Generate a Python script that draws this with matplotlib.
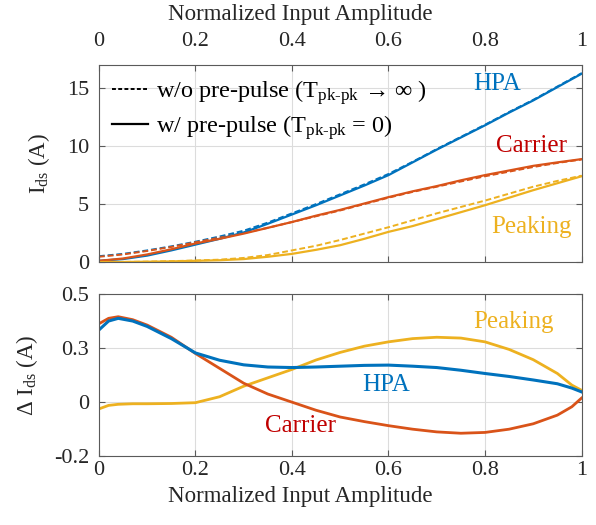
import matplotlib
matplotlib.use("Agg")
import matplotlib.pyplot as plt
from matplotlib.ticker import FixedLocator, FixedFormatter

plt.rcParams['font.family'] = ['Liberation Serif', 'DejaVu Serif']
plt.rcParams['mathtext.fontset'] = 'custom'
plt.rcParams['mathtext.rm'] = 'Liberation Serif'
plt.rcParams['mathtext.it'] = 'Liberation Serif:italic'

# ---------------- data ----------------
x_top = [0, 0.05, 0.1, 0.15, 0.2, 0.25, 0.3, 0.35, 0.4, 0.45, 0.5,
         0.55, 0.6, 0.65, 0.7, 0.75, 0.8, 0.85, 0.9, 0.95, 1.0]

hpa_solid = [0.1, 0.25, 0.55, 1.0, 1.5, 2.0, 2.55, 3.3, 4.1, 4.9, 5.75,
             6.6, 7.5, 8.6, 9.7, 10.75, 11.8, 12.9, 13.95, 15.1, 16.25]
hpa_dash = [0.5, 0.7, 1.0, 1.35, 1.75, 2.2, 2.7, 3.4, 4.2, 5.0, 5.85,
            6.7, 7.6, 8.65, 9.75, 10.8, 11.85, 12.95, 14.0, 15.15, 16.3]
car_solid = [0.1, 0.3, 0.65, 1.1, 1.6, 2.0, 2.45, 2.95, 3.45, 4.0, 4.5,
             5.05, 5.6, 6.1, 6.55, 7.05, 7.5, 7.9, 8.3, 8.6, 8.88]
car_dash = [0.45, 0.65, 0.95, 1.3, 1.7, 2.1, 2.5, 2.95, 3.45, 3.95, 4.45,
            5.0, 5.55, 6.05, 6.5, 6.95, 7.4, 7.8, 8.2, 8.55, 8.85]
pk_solid = [0.0, 0.0, 0.02, 0.05, 0.1, 0.15, 0.25, 0.45, 0.7, 1.05, 1.45,
            2.0, 2.6, 3.1, 3.7, 4.3, 4.9, 5.55, 6.2, 6.8, 7.4]
pk_dash = [0.0, 0.0, 0.03, 0.07, 0.13, 0.2, 0.35, 0.6, 1.0, 1.4, 1.9,
           2.45, 3.0, 3.6, 4.2, 4.75, 5.3, 5.9, 6.5, 7.0, 7.45]

x_bot = [0, 0.02, 0.04, 0.07, 0.1, 0.15, 0.2, 0.25, 0.3, 0.35, 0.4, 0.45,
         0.5, 0.55, 0.6, 0.65, 0.7, 0.75, 0.8, 0.85, 0.9, 0.95, 0.98, 1.0]
d_hpa = [0.267, 0.30, 0.31, 0.30, 0.28, 0.235, 0.182, 0.155, 0.138, 0.13,
         0.128, 0.13, 0.133, 0.136, 0.137, 0.133, 0.128, 0.118, 0.106,
         0.095, 0.082, 0.068, 0.052, 0.038]
d_car = [0.29, 0.31, 0.316, 0.305, 0.285, 0.24, 0.18, 0.125, 0.07, 0.03,
         0.0, -0.03, -0.055, -0.072, -0.087, -0.1, -0.11, -0.115, -0.112,
         -0.1, -0.08, -0.048, -0.017, 0.015]
d_pk = [-0.025, -0.012, -0.008, -0.006, -0.006, -0.005, -0.002, 0.02,
        0.059, 0.09, 0.121, 0.156, 0.184, 0.207, 0.223, 0.235, 0.24, 0.237,
        0.223, 0.195, 0.157, 0.106, 0.063, 0.044]

x_ticks = [0, 0.2, 0.4, 0.6, 0.8, 1]
x_ticklabels = ['0', '0.2', '0.4', '0.6', '0.8', '1']
top_yticks = [0, 5, 10, 15]
bot_ytick_pos = [-0.2, 0, 0.2, 0.4]
bot_ytick_labels = ['-0.2', '0', '0.3', '0.5']

C_HPA = '#0072BD'
C_CAR = '#D95319'
C_PK = '#EDB120'
C_CAR_TXT = '#C00000'

fig = plt.figure(figsize=(5.96, 5.25), dpi=100)
ax1 = fig.add_axes([0.166, 0.501, 0.8097, 0.375])
ax2 = fig.add_axes([0.166, 0.131, 0.8097, 0.309])

FS = 16
LFS = 18
for ax in (ax1, ax2):
    ax.set_xlim(0, 1)
    ax.grid(True, color='#dcdcdc', lw=0.8)
    ax.set_axisbelow(True)
    for s in ax.spines.values():
        s.set_color('#5a5a5a')
        s.set_linewidth(0.8)
    ax.tick_params(direction='in', length=4, color='#5a5a5a', labelsize=FS,
                   top=True, right=True, labelcolor='#262626')
    ax.tick_params(axis='y', pad=7)
    ax.xaxis.set_major_locator(FixedLocator(x_ticks))
    ax.xaxis.set_major_formatter(FixedFormatter(x_ticklabels))

# top panel
ax1.plot(x_top, hpa_dash, color=C_HPA, lw=1.4, ls=(0, (3, 1.5)))
ax1.plot(x_top, car_dash, color=C_CAR, lw=1.4, ls=(0, (3, 1.5)))
ax1.plot(x_top, pk_dash, color=C_PK, lw=1.4, ls=(0, (3, 1.5)))
ax1.plot(x_top, hpa_solid, color=C_HPA, lw=1.6)
ax1.plot(x_top, car_solid, color=C_CAR, lw=1.6)
ax1.plot(x_top, pk_solid, color=C_PK, lw=1.6)
ax1.set_ylim(0, 17)
ax1.set_yticks(top_yticks)
ax1.xaxis.tick_top()
ax1.tick_params(axis='x', bottom=True, top=True, labelbottom=False, labeltop=True, pad=10)
ax1.xaxis.set_label_position('top')
ax1.set_xlabel('Normalized Input Amplitude', fontsize=16.5, labelpad=9, color='#262626')
ax1.xaxis.label.set_x(0.417)
ax1.set_ylabel('I$_{\\rm ds}$ (A)', fontsize=16.5, color='#262626', labelpad=11)

h1, = ax1.plot([], [], color='black', lw=1.4, ls=(0, (2, 1.2)))
h2, = ax1.plot([], [], color='black', lw=1.6)
ax1.legend([h1, h2],
           ['w/o pre-pulse (T$_{\\rm pk\\text{-}pk}$ \u2192 \u221e )',
            'w/ pre-pulse (T$_{\\rm pk\\text{-}pk}$ = 0)'],
           loc='upper left', frameon=False, fontsize=17.5, handlelength=1.45,
           handletextpad=0.35, borderaxespad=0.15, labelspacing=0.25)

ax1.text(0.825, 15.4, 'HPA', color=C_HPA, fontsize=LFS, ha='center', va='center')
ax1.text(0.897, 10.0, 'Carrier', color=C_CAR_TXT, fontsize=LFS, ha='center', va='center')
ax1.text(0.897, 3.05, 'Peaking', color=C_PK, fontsize=LFS, ha='center', va='center')

# bottom panel
ax2.plot(x_bot, d_pk, color=C_PK, lw=2.0)
ax2.plot(x_bot, d_car, color=C_CAR, lw=2.0)
ax2.plot(x_bot, d_hpa, color=C_HPA, lw=2.2)
ax2.set_ylim(-0.2, 0.4)
ax2.yaxis.set_major_locator(FixedLocator(bot_ytick_pos))
ax2.yaxis.set_major_formatter(FixedFormatter(bot_ytick_labels))
ax2.set_xlabel('Normalized Input Amplitude', fontsize=16.5, labelpad=4, color='#262626')
ax2.xaxis.label.set_x(0.417)
ax2.set_ylabel('\u0394 I$_{\\rm ds}$ (A)', fontsize=16.5, color='#262626', labelpad=10)

ax2.text(0.858, 0.296, 'Peaking', color=C_PK, fontsize=LFS, ha='center', va='center')
ax2.text(0.595, 0.063, 'HPA', color=C_HPA, fontsize=LFS, ha='center', va='center')
ax2.text(0.417, -0.089, 'Carrier', color=C_CAR_TXT, fontsize=LFS, ha='center', va='center')

fig.savefig('out.png', dpi=100)
